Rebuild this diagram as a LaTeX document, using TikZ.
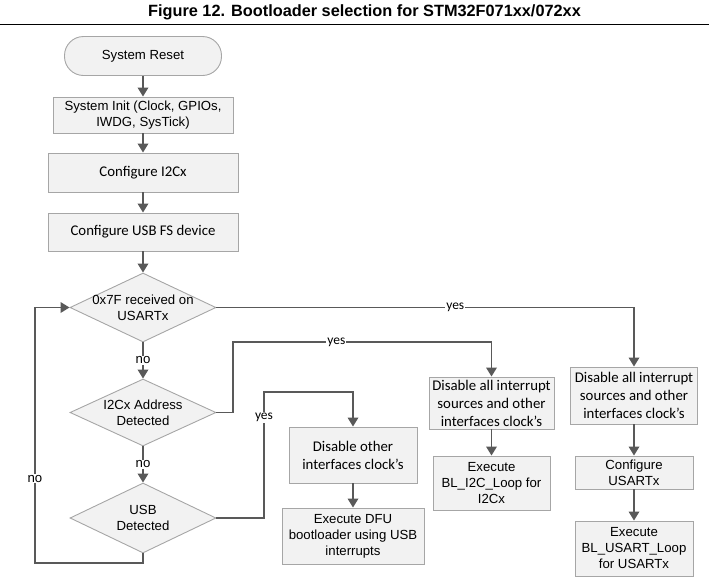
\documentclass[tikz,border=0pt]{standalone}
\usepackage{fontspec}
\setmainfont{Carlito}
\newfontfamily\arialfont{Liberation Sans}
\usetikzlibrary{shapes.geometric, arrows.meta}

\definecolor{linegray}{HTML}{595959}
\definecolor{boxline}{HTML}{A6A6A6}
\definecolor{boxfill}{HTML}{F2F2F2}

\tikzset{
  box/.style 2 args={draw=boxline, fill=boxfill, line width=0.9pt, align=center,
    inner sep=0pt, minimum width=#1, minimum height=#2},
  decision/.style={diamond, draw=boxline, fill=boxfill, line width=0.9pt,
    inner sep=0pt, minimum width=146pt, minimum height=#1},
  arial/.style={font=\arialfont\fontsize{13.2}{16}\selectfont},
  calib/.style={font=\fontsize{14.8}{18}\selectfont},
  yesfont/.style={font=\fontsize{13.5}{14}\selectfont},
  flow/.style={draw=linegray, line width=1.8pt, -{Triangle[length=9pt, width=10.5pt]}},
  lbl/.style={fill=white, inner sep=1pt}
}

\begin{document}
\begin{tikzpicture}[x=1pt, y=-1pt]
  \def\midx{143}
  \def\loopx{35}
  \useasboundingbox (0,0) rectangle (709,584);

  % Title and rule
  \node[font=\arialfont\bfseries\fontsize{16.3}{18}\selectfont] (title) at (364.5,12)
    {Figure 12. Bootloader selection for STM32F071xx/072xx};
  \draw[line width=1pt] (0,24) -- (709,24);

  % Main column
  \node[box={157pt}{39pt}, rounded corners=19pt, arial] (reset) at (\midx,56) {System Reset};
  \node[box={180pt}{36pt}, arial] (init) at (\midx,115) {System Init (Clock, GPIOs,\\IWDG, SysTick)};
  \node[box={190pt}{39pt}, calib] (cfgi2c) at (\midx,172.5) {Configure I2Cx};
  \node[box={190pt}{38pt}, calib] (cfgusb) at (\midx,232) {Configure USB FS device};

  % Decisions
  \node[decision=69pt, label={[arial, align=center]center:0x7F received on\\USARTx}] (usart) at (\midx,307.5) {};
  \node[decision=67pt, label={[arial, align=center]center:I2Cx Address\\Detected}] (i2c) at (\midx,412.5) {};
  \node[decision=70pt, label={[arial, align=center]center:USB\\Detected}] (usb) at (\midx,518) {};

  % USB branch
  \node[box={128pt}{56pt}, calib] (usbdis) at (353,455) {Disable other\\interfaces clock’s};
  \node[box={142pt}{56pt}, arial] (dfu) at (353,536) {Execute DFU\\bootloader using USB\\interrupts};

  % I2C branch
  \node[box={125pt}{52pt}, calib] (i2cdis) at (491.5,403) {Disable all interrupt\\sources and other\\interfaces clock’s};
  \node[box={117pt}{54pt}, arial] (i2cexe) at (491.5,483) {Execute\\BL\_I2C\_Loop for\\I2Cx};

  % USART branch
  \node[box={127pt}{57pt}, calib] (usartdis) at (634,395.5) {Disable all interrupt\\sources and other\\interfaces clock’s};
  \node[box={118pt}{33pt}, arial] (usartcfg) at (634,472.5) {Configure\\USARTx};
  \node[box={118pt}{55pt}, arial] (usartexe) at (634,548.5) {Execute\\BL\_USART\_Loop\\for USARTx};

  % Straight arrows
  \foreach \a/\b in {reset/init, init/cfgi2c, cfgi2c/cfgusb, cfgusb/usart,
                     usbdis/dfu, i2cdis/i2cexe, usartdis/usartcfg, usartcfg/usartexe}
    \draw[flow] (\a) -- (\b);

  % no paths
  \draw[flow] (usart) -- node[lbl, arial]{no} (i2c);
  \draw[flow] (i2c) -- node[lbl, arial]{no} (usb);
  \draw[flow] (usb.south) |- (\loopx,563) -- node[lbl, arial, pos=0.33]{no} (\loopx,307.5) -- (usart.west);

  % yes paths
  \draw[flow] (usart.east) -| node[lbl, yesfont, pos=0.286]{yes} (usartdis.north);
  \draw[flow] (i2c.east) -- (233,412.5) |- node[lbl, yesfont, pos=0.7]{yes} (491.5,342) -- (i2cdis.north);
  \draw[flow] (usb.east) -- (264,518) |- node[lbl, yesfont, pos=0.4]{yes} (353,392) -- (usbdis.north);

\end{tikzpicture}
\end{document}
